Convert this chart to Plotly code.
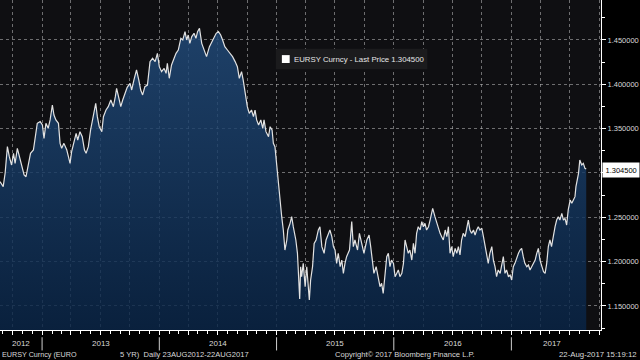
import pandas as pd
import plotly.graph_objects as go

START = "2012-08-23"

# day offsets from START and last price readings, by segment
days_a = [0,10,16,23,29,36,42,47,54,60,
          67,75,81,88,95,104,109,116,125,132,
          137,143,150,156,163,168,174,182,187,192,
          199,208,213,218,223,230,237,242,249,256,
          263,268,275,282,291,298,303,309,317,322,
          330,337,345,353,359,363,369,376,382,389,
          396,405,410,417,425,432,438,444,451,459]
vals_a = [1.2902,1.2846,1.300,1.3297,1.3184,1.309,1.3222,1.3109,1.3278,1.3184,
          1.3109,1.2977,1.2958,1.3109,1.3222,1.3259,1.3372,1.356,1.3579,1.3541,
          1.3391,1.356,1.3504,1.3598,1.3767,1.3654,1.3598,1.356,1.3334,1.3278,
          1.3334,1.3259,1.3184,1.3109,1.324,1.3334,1.3447,1.3372,1.3466,1.341,
          1.3259,1.3222,1.3297,1.3485,1.3635,1.3786,1.3635,1.3522,1.3466,1.3635,
          1.371,1.3748,1.3823,1.3748,1.3861,1.3955,1.3861,1.3748,1.3823,1.3898,
          1.3966,1.4011,1.3936,1.4049,1.4162,1.4049,1.3936,1.388,1.3974,1.3992]

days_b = [467,475,483,490,496,503,511,517,521,527,
          534,542,548,555,563,569,576,581,586,591,
          597,604,610,615,621,628,635,643,652,659,
          666,673,680,687,693,700,708,716,724,732,
          739,745,752,757,765,770,776,783,789,794,
          799,805,812,818,822,828,836,841,847,851,
          856,861,867,872,877,882,887,893,896,903,
          908,913,921,926,930,933]
vals_b = [1.4256,1.4293,1.4256,1.435,1.4199,1.4143,1.418,1.4124,1.4237,1.4068,
          1.4218,1.4293,1.435,1.4387,1.4519,1.45,1.4594,1.45,1.4556,1.4462,
          1.4538,1.4575,1.4519,1.4594,1.4632,1.4462,1.4387,1.4312,1.4425,1.4481,
          1.4538,1.4575,1.4594,1.4556,1.45,1.4425,1.4387,1.435,1.4312,1.4256,
          1.4199,1.4068,1.4143,1.4049,1.3861,1.3748,1.3673,1.371,1.3635,1.371,
          1.3598,1.3541,1.3598,1.3504,1.3598,1.3466,1.341,1.3522,1.3485,1.3334,
          1.3297,1.3109,1.2808,1.2658,1.2507,1.2357,1.2131,1.2244,1.2357,1.2432,
          1.2507,1.2394,1.2244,1.2094,1.1868,1.158]

days_c = [936,939,944,950,955,960,963,967,973,978,
          984,991,996,1002,1009,1015,1022,1027,1033,1038,
          1043,1048,1053,1059,1064,1069,1074,1079,1088,1095,
          1100,1105,1113,1119,1126,1133,1142,1149,1154,1160,
          1164,1171,1178,1183,1188,1193,1199,1204,1209,1214,
          1219,1225,1230,1235,1240,1245,1251,1256,1261,1266,
          1271,1276,1282,1287,1292,1297,1302,1308,1313,1318,
          1323,1328,1334,1339,1347,1354,1360,1365,1370,1375,
          1380,1386,1391,1396]
vals_c = [1.1943,1.183,1.1981,1.1718,1.1943,1.1642,1.1567,1.1793,1.1943,1.2206,
          1.2244,1.2357,1.2394,1.2169,1.2094,1.2244,1.2319,1.2357,1.2282,1.2169,
          1.2131,1.1981,1.2094,1.1943,1.2018,1.1868,1.1981,1.2056,1.2131,1.2451,
          1.2169,1.2244,1.2131,1.2319,1.2206,1.2094,1.2244,1.23,1.2169,1.1981,
          1.1868,1.1943,1.1793,1.1718,1.1755,1.1642,1.1868,1.2056,1.2094,1.1943,
          1.2018,1.1981,1.183,1.1868,1.1906,1.183,1.1868,1.1981,1.2244,1.2169,
          1.2094,1.2131,1.2018,1.2206,1.2094,1.2319,1.2394,1.2357,1.2451,1.2394,
          1.2432,1.2357,1.2394,1.2469,1.2601,1.2507,1.2432,1.2357,1.2319,1.2282,
          1.2244,1.2357,1.2282,1.2394]

days_d = [1401,1406,1411,1417,1422,1427,1432,1437,1442,1448,
          1453,1458,1463,1468,1474,1479,1484,1489,1494,1500,
          1505,1510,1515,1520,1525,1531,1536,1541,1546,1551,
          1557,1562,1567,1572,1577,1583,1588,1593,1598,1603,
          1608,1614,1619,1624,1629,1634,1640,1645,1650,1655,
          1660,1666,1671,1676,1681,1686,1692,1697,1702,1707,
          1712,1717,1723,1728,1733,1738,1743,1749,1754,1759,
          1764,1769,1775,1780,1785,1790,1793,1797,1801,1805,
          1811,1816,1821,1825]
vals_d = [1.2094,1.2169,1.2056,1.215,1.2094,1.2169,1.2075,1.2244,1.2319,1.2282,
          1.2394,1.2469,1.2357,1.2319,1.2357,1.23,1.2357,1.2394,1.2357,1.2376,
          1.2282,1.2169,1.2056,1.1981,1.2094,1.2169,1.2018,1.1943,1.183,1.1906,
          1.1868,1.1981,1.2056,1.1868,1.1906,1.183,1.1849,1.1793,1.1943,1.1981,
          1.2037,1.2094,1.2131,1.215,1.2056,1.1981,1.1943,1.1962,1.1906,1.1943,
          1.1981,1.2018,1.2094,1.215,1.2018,1.1943,1.1887,1.1868,1.1981,1.2169,
          1.2244,1.2169,1.2319,1.2394,1.2469,1.2507,1.2469,1.2545,1.2469,1.2488,
          1.2413,1.2583,1.2695,1.2658,1.2695,1.2733,1.2846,1.2921,1.2996,1.3146,
          1.309,1.3109,1.3052,1.3045]

year_labels = ["2012", "2013", "2014", "2015", "2016", "2017"]
year_label_dates = ["2012-10-27", "2013-07-02", "2014-07-02", "2015-07-02", "2016-07-02", "2017-05-08"]
year_bounds = ["2013-01-01", "2014-01-01", "2015-01-01", "2016-01-01", "2017-01-01"]
last_price = 1.3045

days = days_a + days_b + days_c + days_d
vals = vals_a + vals_b + vals_c + vals_d
dates = pd.Timestamp(START) + pd.to_timedelta(days, unit="D")

FONT = "Liberation Sans, Arial, sans-serif"
TXT = "#d9d9d9"
GRID = "rgba(190,190,190,0.55)"

fig = go.Figure()
fig.add_trace(go.Scatter(
    x=dates, y=vals, mode="lines",
    line=dict(color="#e2e2e2", width=1.2),
    fill="tozeroy",
    fillgradient=dict(type="vertical", start=1.12, stop=1.47,
                      colorscale=[[0, "rgba(8,36,70,0.82)"], [1, "rgba(34,76,124,0.82)"]]),
    showlegend=False, hoverinfo="skip",
))

fig.update_layout(
    template="none",
    width=640, height=360,
    margin=dict(l=0, r=39, t=0, b=30, pad=0),
    paper_bgcolor="#000000",
    plot_bgcolor="#0f0f12",
    font=dict(family=FONT, color=TXT, size=8),
    xaxis=dict(
        type="date", range=["2012-08-23", "2017-10-07"], automargin=False,
        showgrid=True, gridcolor=GRID, griddash="dot", gridwidth=1,
        dtick="M3", tick0="2012-01-01",
        ticks="outside", ticklen=4, tickcolor="#ffffff",
        showticklabels=False,
        showline=True, linecolor="#ffffff", linewidth=1,
        minor=dict(dtick="M1", ticks="outside", ticklen=3, tickcolor="#ffffff", showgrid=False),
        zeroline=False,
    ),
    yaxis=dict(
        side="right", range=[1.1229, 1.4951], automargin=False,
        tick0=1.15, dtick=0.05, tickformat=".6f",
        showgrid=True, gridcolor=GRID, griddash="dot", gridwidth=1,
        ticks="outside", ticklen=4, tickcolor="#ffffff",
        tickfont=dict(size=7.5, color=TXT, family=FONT),
        showline=True, linecolor="#ffffff", linewidth=1,
        minor=dict(dtick=0.025, ticks="outside", ticklen=3, tickcolor="#ffffff", showgrid=False),
        zeroline=False,
    ),
)

# year labels and separators
for lab, d in zip(year_labels, year_label_dates):
    fig.add_annotation(x=d, xref="x", y=-0.042, yref="paper", text=lab, showarrow=False,
                       font=dict(size=8, color=TXT), xanchor="center", yanchor="middle")
for d in year_bounds:
    fig.add_shape(type="line", x0=d, x1=d, xref="x", y0=-0.022, y1=-0.062, yref="paper",
                  line=dict(color="#cfcfcf", width=1))

# legend box
fig.add_shape(type="rect", xref="paper", yref="paper", x0=0.459, x1=0.711, y0=0.790, y1=0.852,
              fillcolor="#1b1b1d", line=dict(width=0), layer="above")
fig.add_shape(type="rect", xref="paper", yref="paper", x0=0.469, x1=0.482, y0=0.809, y1=0.833,
              fillcolor="#ffffff", line=dict(width=0), layer="above")
fig.add_annotation(x=0.486, xref="paper", y=0.821, yref="paper",
                   text="EURSY Curncy - Last Price 1.304500", showarrow=False,
                   xanchor="left", yanchor="middle", font=dict(size=7.8, color="#e6e6e6"))

# last price tag
fig.add_annotation(x=1, xref="paper", xshift=1, y=last_price, yref="y", yshift=-1, text="1.304500",
                   showarrow=False, xanchor="left", yanchor="middle",
                   bgcolor="#ffffff", borderpad=2.5, font=dict(size=7.5, color="#000000"))

# footer
fig.add_annotation(x=0.0, xref="paper", y=-0.073, yref="paper", text="EURSY Curncy (EURO",
                   showarrow=False, xanchor="left", yanchor="middle", font=dict(size=7.2, color=TXT))
fig.add_annotation(x=118/601, xref="paper", y=-0.073, yref="paper",
                   text="5 YR)&nbsp;&nbsp;Daily 23AUG2012-22AUG2017",
                   showarrow=False, xanchor="left", yanchor="middle", font=dict(size=7.6, color=TXT))
fig.add_annotation(x=333/601, xref="paper", y=-0.073, yref="paper",
                   text="Copyright© 2017 Bloomberg Finance L.P.",
                   showarrow=False, xanchor="left", yanchor="middle", font=dict(size=7.6, color=TXT))
fig.add_annotation(x=639/601, xref="paper", y=-0.073, yref="paper", text="22-Aug-2017 15:19:12",
                   showarrow=False, xanchor="right", yanchor="middle", font=dict(size=7.8, color=TXT))

fig.write_html("out.html",
               config={"displayModeBar": False},
               post_script="document.body.style.margin='0px';document.body.style.padding='0px';")
